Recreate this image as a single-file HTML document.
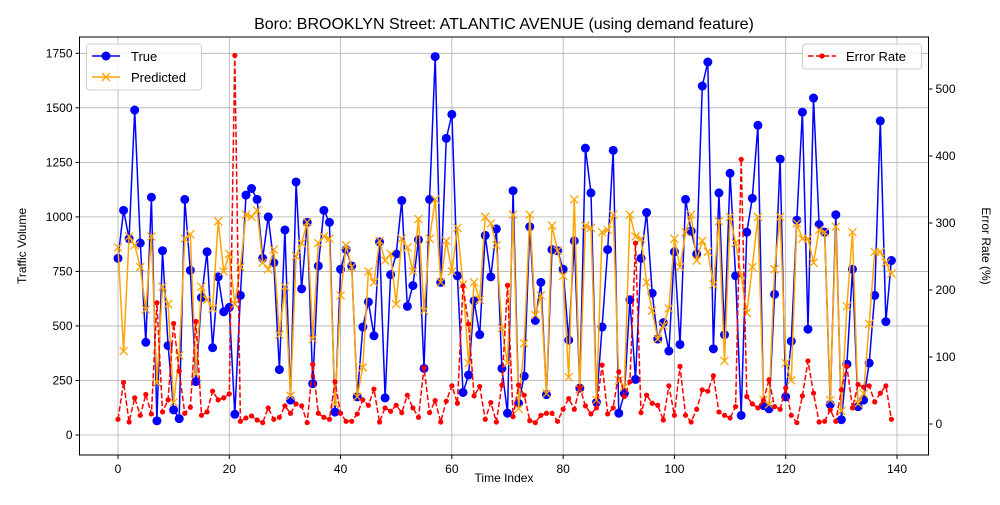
<!DOCTYPE html>
<html><head><meta charset="utf-8"><style>
body{margin:0;background:#fff;}
svg text{font-family:"Liberation Sans","DejaVu Sans",sans-serif;fill:#000;}
</style></head><body>
<svg id="chart" width="1000" height="500" xmlns="http://www.w3.org/2000/svg"></svg>
<script>
const trueVals=[810,1030,900,1490,880,425,1090,65,845,410,115,75,1080,755,245,630,840,400,725,565,585,95,640,1100,1130,1080,810,1000,790,300,940,160,1160,670,975,235,775,1030,975,105,760,850,775,175,495,610,455,885,170,735,830,1075,590,685,895,305,1080,1735,700,1360,1470,730,195,275,615,460,915,725,945,305,100,1120,145,270,955,525,700,185,850,845,760,435,890,215,1315,1110,150,495,850,1305,100,190,620,255,810,1020,650,440,515,385,840,415,1080,935,830,1600,1710,395,1110,460,1200,730,90,930,1085,1420,135,120,645,1265,175,430,985,1480,485,1545,965,930,140,1010,70,325,760,130,160,330,640,1440,520,800];
const predVals=[860,385,910,870,770,575,910,240,680,600,150,365,900,920,280,680,620,580,980,750,830,600,770,1010,1000,1030,790,760,850,460,680,180,820,880,975,440,880,910,900,140,640,870,770,175,310,750,700,890,800,830,600,900,860,750,990,570,900,1080,700,890,750,950,690,330,700,620,1000,970,870,490,330,1010,120,420,1010,550,640,190,960,845,730,265,1080,210,960,950,160,930,940,1010,250,220,1010,910,900,700,570,440,500,580,900,770,930,1010,800,890,840,690,980,340,1000,880,730,560,770,1000,160,140,760,1000,330,250,970,900,900,790,940,930,160,955,110,590,930,145,190,510,840,840,790,740];
const errVals=[7,62,3,39,13,44,15,181,18,36,150,79,16,25,153,13,18,49,36,39,45,550,4,9,12,6,2,24,7,10,27,16,30,27,2,89,16,10,7,63,16,4,4,15,36,28,52,3,24,19,28,17,43,24,10,84,17,35,3,34,57,31,206,149,42,56,7,32,3,58,207,11,58,43,5,2,13,16,16,4,22,38,22,55,27,15,24,88,15,24,78,41,63,270,17,43,31,28,6,57,13,86,13,3,22,51,49,72,18,13,9,26,395,41,30,24,35,66,26,22,54,13,2,42,94,46,3,4,21,4,51,86,24,59,55,57,33,46,57,7];
const xTicks=[0,20,40,60,80,100,120,140];
const yTicks=[0,250,500,750,1000,1250,1500,1750];
const y2Ticks=[0,100,200,300,400,500];

const svg=document.getElementById('chart');
const NS='http://www.w3.org/2000/svg';
const L=79.5,R=928.5,T=37,B=455;
const X=i=>118+i*(897-118)/140;
const Y=v=>435-v*(435-53.3)/1750;
const Y2=v=>424-v*(424-89)/500;
function mk(tag,attrs,parent){const e=document.createElementNS(NS,tag);for(const k in attrs)e.setAttribute(k,attrs[k]);(parent||svg).appendChild(e);return e;}
function txt(s,attrs,parent){const e=mk('text',attrs,parent);e.textContent=s;return e;}

const grid=mk('g',{});


xTicks.forEach(t=>{mk('line',{x1:X(t),x2:X(t),y1:T,y2:B,stroke:'#b0b0b0','stroke-width':0.8},grid);});
yTicks.forEach(t=>{mk('line',{x1:L,x2:R,y1:Y(t),y2:Y(t),stroke:'#b0b0b0','stroke-width':0.8},grid);});

function series(vals,yf,color,name,dash){
  const g=mk('g',{});
  
  
  const pts=vals.map((v,i)=>X(i).toFixed(1)+','+yf(v).toFixed(1)).join(' ');
  const a={points:pts,fill:'none',stroke:color,'stroke-width':1.5};
  if(dash)a['stroke-dasharray']=dash;
  mk('polyline',a,g);
  return g;
}
const gt=series(trueVals,Y,'#0000ff','true-series');
trueVals.forEach((v,i)=>{const c=mk('circle',{cx:X(i),cy:Y(v),r:4.5,fill:'#0000ff'},gt);

});
const gp=series(predVals,Y,'#ffa500','predicted-series');
predVals.forEach((v,i)=>{const x=X(i),y=Y(v);const p=mk('path',{d:`M${x-4},${y-4}L${x+4},${y+4}M${x-4},${y+4}L${x+4},${y-4}`,stroke:'#ffa500','stroke-width':1.3},gp);

});
const ge=series(errVals,Y2,'#ff0000','error-rate-series','5.5,2.4');
errVals.forEach((v,i)=>{const c=mk('circle',{cx:X(i),cy:Y2(v),r:2.6,fill:'#ff0000'},ge);

});

const fr=mk('rect',{x:L,y:T,width:R-L,height:B-T,fill:'none',stroke:'#000','stroke-width':1});



const xa=mk('g',{});


xTicks.forEach(t=>{mk('line',{x1:X(t),x2:X(t),y1:B,y2:B+4,stroke:'#000'},xa);txt(String(t),{x:X(t),y:B+18,'font-size':12,'text-anchor':'middle'},xa);});
const ya=mk('g',{});


yTicks.forEach(t=>{mk('line',{x1:L-4,x2:L,y1:Y(t),y2:Y(t),stroke:'#000'},ya);txt(String(t),{x:L-7,y:Y(t)+4,'font-size':12,'text-anchor':'end'},ya);});
const y2a=mk('g',{});


y2Ticks.forEach(t=>{mk('line',{x1:R,x2:R+4,y1:Y2(t),y2:Y2(t),stroke:'#000'},y2a);txt(String(t),{x:R+7,y:Y2(t)+4,'font-size':12},y2a);});

const tt=txt('Boro: BROOKLYN Street: ATLANTIC AVENUE (using demand feature)',{x:504,y:29,'font-size':16,'text-anchor':'middle'});


const xt=txt('Time Index',{x:504,y:482,'font-size':12,'text-anchor':'middle'});


const yt=txt('Traffic Volume',{x:0,y:0,'font-size':12,'text-anchor':'middle',transform:'translate(26,246) rotate(-90)'});


const y2t=txt('Error Rate (%)',{x:0,y:0,'font-size':12,'text-anchor':'middle',transform:'translate(982,246) rotate(90)'});



const lg=mk('g',{});


mk('rect',{x:86.5,y:44,width:115,height:46,rx:3,fill:'#fff','fill-opacity':0.8,stroke:'#ccc'},lg);
mk('line',{x1:92,x2:120,y1:56,y2:56,stroke:'#0000ff','stroke-width':1.5},lg);
mk('circle',{cx:106,cy:56,r:4.5,fill:'#0000ff'},lg);
txt('True',{x:131,y:61,'font-size':13},lg);
mk('line',{x1:92,x2:120,y1:77,y2:77,stroke:'#ffa500','stroke-width':1.5},lg);
mk('path',{d:'M102,73L110,81M102,81L110,73',stroke:'#ffa500','stroke-width':1.3},lg);
txt('Predicted',{x:131,y:82,'font-size':13},lg);
const lg2=mk('g',{});


mk('rect',{x:802.5,y:44,width:119,height:25,rx:3,fill:'#fff','fill-opacity':0.8,stroke:'#ccc'},lg2);
mk('line',{x1:808,x2:836,y1:56,y2:56,stroke:'#ff0000','stroke-width':1.5,'stroke-dasharray':'5.5,2.4'},lg2);
mk('circle',{cx:822,cy:56,r:2.6,fill:'#ff0000'},lg2);
txt('Error Rate',{x:846,y:61,'font-size':13},lg2);
</script>
</body></html>
